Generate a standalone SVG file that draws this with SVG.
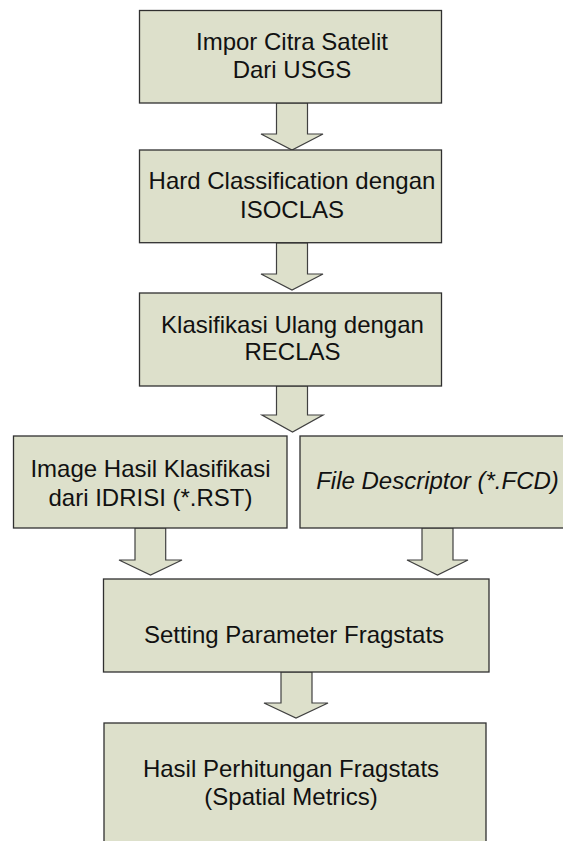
<svg xmlns="http://www.w3.org/2000/svg" width="563" height="841" viewBox="0 0 563 841">
<style>
.box{fill:#DDE0CB;stroke:#303030;stroke-width:1.3}
.arr{fill:#DDE0CB;stroke:#404040;stroke-width:1.2;stroke-linejoin:miter}
text{font-family:"Liberation Sans",Arial,sans-serif;font-size:24px;fill:#111;text-anchor:middle}
.it{font-style:italic}
</style>
<rect width="563" height="841" fill="#fff"/>
<g id="connectors">
<polygon class="arr" points="276.5,103 276.5,134 261,134 292,150 323,134 307.5,134 307.5,103"/>
<polygon class="arr" points="276.5,243 276.5,274 261,274 292,290 323,274 307.5,274 307.5,243"/>
<polygon class="arr" points="276.5,386 276.5,415 262,415 292.5,432 323,415 307.5,415 307.5,386"/>
<polygon class="arr" points="135,528 135,560 119,560 150.5,575 182,560 165.7,560 165.7,528"/>
<polygon class="arr" points="422,528 422,560 407,560 437.5,575 468,560 453,560 453,528"/>
<polygon class="arr" points="281,672 281,703 264,703 296,718 328,703 312,703 312,672"/>
</g>
<g id="n1">
<rect class="box" x="139.5" y="10.5" width="302" height="92.5"/>
<text x="292" y="50">Impor Citra Satelit</text>
<text x="292" y="78">Dari USGS</text>
</g>
<g id="n2">
<rect class="box" x="139.5" y="150" width="302" height="92.7"/>
<text x="292" y="189.3">Hard Classification dengan</text>
<text x="292" y="217.7">ISOCLAS</text>
</g>
<g id="n3">
<rect class="box" x="139.5" y="293" width="302" height="93"/>
<text x="292.5" y="332.7">Klasifikasi Ulang dengan</text>
<text x="292.5" y="360">RECLAS</text>
</g>
<g id="n4">
<rect class="box" x="13.5" y="436" width="273.5" height="92"/>
<text x="150.5" y="477.3">Image Hasil Klasifikasi</text>
<text x="150.5" y="506">dari IDRISI (*.RST)</text>
</g>
<g id="n5">
<rect class="box" x="300" y="436" width="275" height="92"/>
<text class="it" x="437.5" y="489.3">File Descriptor (*.FCD)</text>
</g>
<g id="n6">
<rect class="box" x="103.5" y="579" width="385.5" height="93"/>
<text x="294" y="643">Setting Parameter Fragstats</text>
</g>
<g id="n7">
<rect class="box" x="104" y="723" width="382" height="130"/>
<text x="291" y="776.5">Hasil Perhitungan Fragstats</text>
<text x="291" y="804.5">(Spatial Metrics)</text>
</g>
</svg>
